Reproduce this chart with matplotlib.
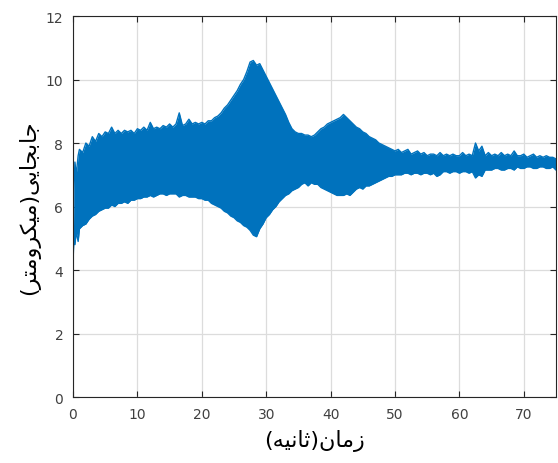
import numpy as np
import matplotlib.pyplot as plt

# displacement envelope (micrometres): a few start-up samples, then every 0.5 s from 1 s to 75 s
t_start = [0, 0.05, 0.15, 0.3, 0.5, 0.8]
upper_start = [0, 4.9, 6.5, 7.4, 7.0, 7.6]
lower_start = [0, 4.5, 5.0, 4.8, 5.2, 4.9]

upper_main = [
    7.8, 7.7, 8.0, 7.9, 8.2, 8.05, 8.3, 8.2, 8.35, 8.3,
    8.5, 8.3, 8.4, 8.3, 8.4, 8.35, 8.4, 8.3, 8.45, 8.4,
    8.5, 8.4, 8.65, 8.45, 8.5, 8.45, 8.55, 8.5, 8.6, 8.5,
    8.6, 8.95, 8.55, 8.6, 8.75, 8.6, 8.65, 8.6, 8.65, 8.6,
    8.7, 8.7, 8.8, 8.85, 8.95, 9.1, 9.2, 9.35, 9.5, 9.65,
    9.85, 10.0, 10.25, 10.55, 10.6, 10.45, 10.5, 10.3, 10.1, 9.9,
    9.7, 9.5, 9.3, 9.1, 8.9, 8.65, 8.45, 8.35, 8.3, 8.3,
    8.25, 8.25, 8.2, 8.25, 8.35, 8.45, 8.5, 8.6, 8.65, 8.7,
    8.75, 8.8, 8.9, 8.8, 8.7, 8.6, 8.5, 8.45, 8.35, 8.3,
    8.2, 8.15, 8.1, 8.0, 7.95, 7.9, 7.85, 7.8, 7.75, 7.8,
    7.7, 7.75, 7.8, 7.65, 7.7, 7.75, 7.65, 7.7, 7.6, 7.65,
    7.65, 7.6, 7.7, 7.6, 7.65, 7.6, 7.65, 7.6, 7.6, 7.7,
    7.6, 7.65, 7.6, 8.0, 7.75, 7.9, 7.6, 7.7, 7.6, 7.65,
    7.6, 7.7, 7.6, 7.65, 7.6, 7.75, 7.6, 7.6, 7.65, 7.55,
    7.6, 7.65, 7.55, 7.6, 7.55, 7.6, 7.55, 7.55, 7.5]
lower_main = [
    5.3, 5.4, 5.45, 5.6, 5.7, 5.75, 5.85, 5.9, 5.95, 5.95,
    6.05, 6.0, 6.1, 6.1, 6.15, 6.1, 6.2, 6.2, 6.25, 6.25,
    6.3, 6.3, 6.35, 6.3, 6.35, 6.4, 6.4, 6.35, 6.4, 6.4,
    6.4, 6.3, 6.35, 6.35, 6.3, 6.3, 6.3, 6.25, 6.25, 6.2,
    6.2, 6.1, 6.05, 6.0, 5.95, 5.85, 5.8, 5.7, 5.65, 5.55,
    5.5, 5.4, 5.35, 5.25, 5.1, 5.05, 5.3, 5.45, 5.65, 5.75,
    5.9, 6.0, 6.15, 6.25, 6.35, 6.4, 6.5, 6.55, 6.6, 6.7,
    6.75, 6.65, 6.75, 6.7, 6.7, 6.6, 6.55, 6.5, 6.45, 6.4,
    6.35, 6.35, 6.35, 6.4, 6.35, 6.45, 6.55, 6.6, 6.55, 6.65,
    6.65, 6.7, 6.75, 6.8, 6.85, 6.9, 6.95, 6.95, 7.0, 7.0,
    7.0, 7.05, 7.05, 7.0, 7.05, 7.05, 7.0, 7.05, 7.05, 7.0,
    7.05, 6.95, 7.0, 7.1, 7.1, 7.05, 7.1, 7.1, 7.05, 7.1,
    7.1, 7.05, 7.1, 6.9, 7.0, 6.95, 7.15, 7.15, 7.15, 7.2,
    7.2, 7.15, 7.15, 7.2, 7.2, 7.15, 7.25, 7.2, 7.2, 7.25,
    7.25, 7.2, 7.2, 7.25, 7.25, 7.2, 7.2, 7.25, 7.15]

xticks = [0, 10, 20, 30, 40, 50, 60, 70]
yticks = [0, 2, 4, 6, 8, 10, 12]

# persian labels written in visual order with arabic presentation forms
xlabel = '(\uFEEA\uFBFF\uFEE7\uFE8E\uFE9B)\uFEE5\uFE8E\uFEE3\uFEAF'
ylabel = ('(\uFEAE\uFE98\uFEE3\uFEED\uFEAE\uFB91\uFBFF\uFEE3)'
          '\uFBFD\uFBFE\uFE8E\uFEA0\uFE91\uFE8E\uFE9F')

t_main = np.arange(1.0, 75.25, 0.5)
time_s = np.concatenate([t_start, t_main])
upper = np.concatenate([upper_start, upper_main])
lower = np.concatenate([lower_start, lower_main])

blue = '#0072BD'
dark = '#262626'

fig = plt.figure(figsize=(5.58, 4.64), dpi=100)
ax = fig.add_axes([0.1308, 0.1422, 0.8656, 0.8211])

ax.fill_between(time_s, lower, upper, color=blue, lw=0)
ax.plot(time_s, upper, color=blue, lw=1.0)
ax.plot(time_s, lower, color=blue, lw=1.0)

ax.set_xlim(0, 75)
ax.set_ylim(0, 12)
ax.set_xticks(xticks)
ax.set_yticks(yticks)
ax.grid(True, color='#dcdcdc', lw=0.9)
ax.set_axisbelow(True)
ax.tick_params(direction='in', length=4, width=0.8, colors=dark, labelsize=10,
               top=True, right=True, labelcolor='#404040', pad=7)
for s in ax.spines.values():
    s.set_color(dark)
    s.set_linewidth(0.8)

ax.set_xlabel(xlabel, family=['DejaVu Sans'], fontsize=16, color='black', labelpad=6)
ax.set_ylabel(ylabel, family=['DejaVu Sans'], fontsize=16, color='black', labelpad=4)

plt.savefig('out.png', dpi=100)
